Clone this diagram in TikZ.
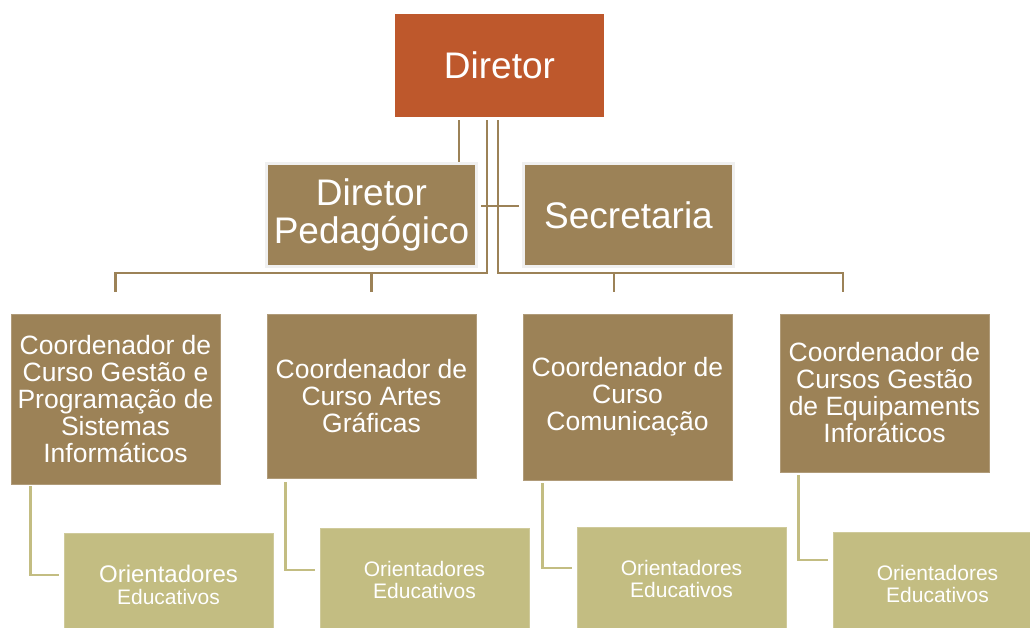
\documentclass[tikz,border=0pt]{standalone}
\usepackage{fontspec}
\setmainfont{Liberation Sans}
\usetikzlibrary{positioning, calc}

\definecolor{dirred}{RGB}{190,88,44}
\definecolor{boxbrown}{RGB}{156,130,87}
\definecolor{boxolive}{RGB}{195,189,130}

\begin{document}
\begin{tikzpicture}[x=1pt, y=-1pt,
  topbox/.style={fill=dirred, text=white, minimum width=209pt, minimum height=103pt, inner sep=0pt, font=\fontsize{37}{38}\selectfont},
  midbox/.style={fill=boxbrown, draw=gray!12, line width=3pt, text=white, minimum width=210pt, minimum height=103pt, inner sep=0pt, align=center, font=\fontsize{37}{38}\selectfont},
  coordbox/.style={fill=boxbrown, draw=boxbrown!80!white, line width=0.8pt, text=white, minimum width=209pt, inner sep=0pt, align=center, font=\fontsize{26.5}{27}\selectfont},
  orientbox/.style={fill=boxolive, draw=boxolive!80!white, line width=0.8pt, text=white, minimum width=209pt, minimum height=104pt, inner sep=0pt, align=center, font=\fontsize{21}{21.5}\selectfont},
  link/.style={draw=boxbrown, line width=2.5pt},
  sublink/.style={draw=boxolive, line width=2.5pt}]
\useasboundingbox (0,0) rectangle (1030,627);
\clip (0,0) rectangle (1030,627);

% Direcao
\node[topbox] (dir) at (499.5,65.5) {Diretor};
\node[midbox] (dp) at (371.5,215) {Diretor\\Pedagógico};
\node[midbox] (sec) at (628.5,215) {Secretaria};

% Coordenadores
\node[coordbox, minimum height=170pt] (c1) at (115.5,399) {Coordenador de\\Curso Gestão e\\Programação de\\Sistemas\\Informáticos};
\node[coordbox, minimum height=164pt] (c2) at (371.5,396) {Coordenador de\\Curso Artes\\Gráficas};
\node[coordbox, minimum height=166pt] (c3) at (627.5,397) {Coordenador de\\Curso\\Comunicação};
\node[coordbox, minimum height=158pt] (c4) at (884.5,393) {Coordenador de\\Cursos Gestão\\de Equipaments\\Inforáticos};

% Orientadores
\node[orientbox] (o1) at (168.5,585) {{\fontsize{24}{24}\selectfont Orientadores}\\Educativos};
\node[orientbox] (o2) at (424.5,580) {Orientadores\\Educativos};
\node[orientbox] (o3) at (681.5,579) {Orientadores\\Educativos};
\node[orientbox] (o4) at (937.5,584) {Orientadores\\Educativos};

% Ligacoes
\coordinate (bus) at (0,273);
\draw[link] ([xshift=-40.5pt,yshift=-3pt]dir.south) -- ([xshift=-40.5pt]dir.south |- dp.north);
\draw[link] ([xshift=-12.5pt,yshift=-3pt]dir.south) |- (c1.north |- bus) -- ++(0,19);
\draw[link] (c2.north |- bus) -- ++(0,19);
\draw[link] ([xshift=-1.5pt,yshift=-3pt]dir.south) |- ([xshift=-41.5pt]c4.north |- bus) -- ++(0,19);
\draw[link] ([xshift=-13.5pt]c3.north |- bus) -- ++(0,19);
\draw[link] ([xshift=3pt,yshift=9pt]dp.east) -- ([xshift=-3pt,yshift=9pt]sec.west);

\draw[sublink] ([xshift=20pt,yshift=-2pt]c1.south west) |- ([xshift=-5pt,yshift=10pt]o1.west);
\draw[sublink] ([xshift=19pt,yshift=-4pt]c2.south west) |- ([xshift=-5pt,yshift=10pt]o2.west);
\draw[sublink] ([xshift=20pt,yshift=-3pt]c3.south west) |- ([xshift=-5pt,yshift=11pt]o3.west);
\draw[sublink] ([xshift=19pt,yshift=-3pt]c4.south west) |- ([xshift=-5pt,yshift=24pt]o4.west);
\end{tikzpicture}
\end{document}
